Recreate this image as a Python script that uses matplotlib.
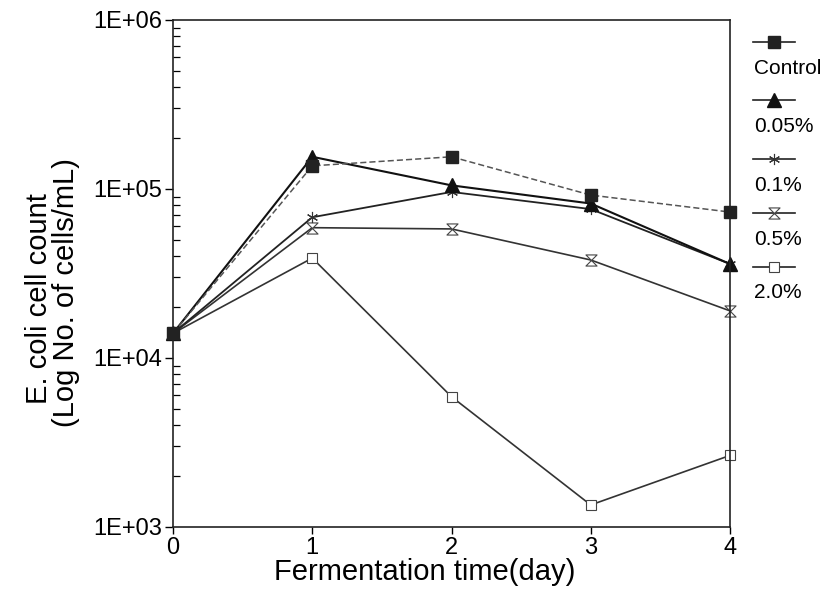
import numpy as np
import matplotlib.pyplot as plt
from matplotlib.lines import Line2D
from matplotlib.path import Path
from matplotlib.ticker import LogLocator, FixedLocator, NullFormatter

plt.rc("font", family=["Liberation Sans", "DejaVu Sans"])

# E. coli counts (cells/mL) during fermentation
days = [0, 1, 2, 3, 4]
control = [14000, 137000, 155000, 92000, 73000]
conc_005 = [14000, 155000, 105000, 82000, 36000]
conc_01 = [14000, 68000, 96000, 76000, 36000]
conc_05 = [14000, 59000, 58000, 38000, 19000]
conc_20 = [14000, 39000, 5900, 1350, 2650]

labels = ["Control", "0.05%", "0.1%", "0.5%", "2.0%"]
y_ticks = [1e3, 1e4, 1e5, 1e6]
y_tick_labels = ["1E+03", "1E+04", "1E+05", "1E+06"]

# hourglass-shaped open marker
hourglass = Path([(-1, 1), (1, 1), (-1, -1), (1, -1), (-1, 1)],
                 [Path.MOVETO, Path.LINETO, Path.LINETO, Path.LINETO, Path.CLOSEPOLY])

styles = [
    dict(marker="s", ms=8, mfc="#222222", mec="#222222", ls=(0, (4, 2)), color="#555555", lw=1.1),
    dict(marker="^", ms=10, mfc="#111111", mec="#111111", ls="-", color="#111111", lw=1.5),
    dict(marker=(6, 2, 0), ms=8, mfc="none", mec="#333333", ls="-", color="#222222", lw=1.3, mew=0.8),
    dict(marker=hourglass, ms=8, mfc="white", mec="#444444", ls="-", color="#333333", lw=1.2, mew=0.8),
    dict(marker="s", ms=7, mfc="white", mec="#444444", ls="-", color="#333333", lw=1.2, mew=0.8),
]
series = [control, conc_005, conc_01, conc_05, conc_20]

fig = plt.figure(figsize=(8.4, 6.04), dpi=100)
ax = fig.add_axes([0.206, 0.1275, 0.663, 0.8395])

# draw the lowest series first so the filled markers stay on top
for vals, st in reversed(list(zip(series, styles))):
    ax.plot(days, vals, clip_on=False, **st)

ax.set_yscale("log")
ax.set_ylim(1e3, 1e6)
ax.set_xlim(0, 4)
ax.yaxis.set_major_locator(FixedLocator(y_ticks))
ax.set_yticklabels(y_tick_labels)
ax.yaxis.set_minor_locator(LogLocator(base=10, subs=np.arange(2, 10)))
ax.yaxis.set_minor_formatter(NullFormatter())
ax.set_xticks(days)
ax.tick_params(axis="y", which="major", direction="out", length=6, width=1, labelsize=17, pad=2)
ax.tick_params(axis="y", which="minor", direction="in", length=5, width=0.9)
ax.tick_params(axis="x", direction="out", length=5, width=1, labelsize=17, pad=2)
for sp in ax.spines.values():
    sp.set_linewidth(1.2)
    sp.set_color("#222222")

ax.set_xlabel("Fermentation time(day)", fontsize=21)
ax.xaxis.set_label_coords(0.452, -0.062)
fig.text(0.046, 0.505, "E. coli cell count", rotation=90, fontsize=21,
         ha="center", va="center")
fig.text(0.079, 0.515, "(Log No. of cells/mL)", rotation=90, fontsize=21,
         ha="center", va="center")

# legend stacked beside the axes, each label under its sample line
handle_y = [0.930, 0.834, 0.736, 0.647, 0.558]
for lab, st, hy in zip(labels, styles, handle_y):
    mk = {k: v for k, v in st.items() if k not in ("ls", "color", "lw")}
    fig.add_artist(Line2D([0.897, 0.947], [hy, hy], transform=fig.transFigure,
                          color="#222222", lw=1.2))
    fig.add_artist(Line2D([0.922], [hy], transform=fig.transFigure, ls="none", **mk))
    fig.text(0.898, hy - 0.043, lab, fontsize=15, va="center", ha="left")

fig.savefig("out.png", dpi=100)
